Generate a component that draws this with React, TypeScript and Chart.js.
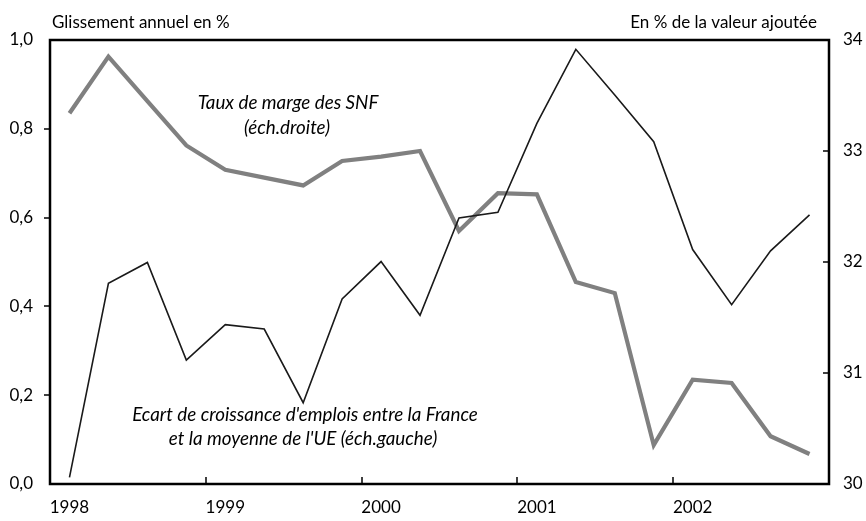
import React, { useEffect, useRef } from "react";
import { Chart, registerables } from "chart.js";

Chart.register(...registerables);

// Quarterly observations 1998Q1 .. 2002Q4
const quarters = [
  "1998T1", "1998T2", "1998T3", "1998T4",
  "1999T1", "1999T2", "1999T3", "1999T4",
  "2000T1", "2000T2", "2000T3", "2000T4",
  "2001T1", "2001T2", "2001T3", "2001T4",
  "2002T1", "2002T2", "2002T3", "2002T4",
];
const yearLabels = [
  "1998", "", "", "",
  "1999", "", "", "",
  "2000", "", "", "",
  "2001", "", "", "",
  "2002", "", "", "",
];

// Ecart de croissance d'emplois France - UE (left axis)
const employmentGap = [
  0.015, 0.452, 0.499, 0.279, 0.359, 0.349, 0.183, 0.417, 0.501, 0.380,
  0.599, 0.612, 0.812, 0.979, 0.876, 0.771, 0.528, 0.404, 0.525, 0.606,
];

// Taux de marge des SNF (right axis)
const marginRate = [
  33.34, 33.85, 33.45, 33.05, 32.83, 32.76, 32.69, 32.91, 32.95, 33.0,
  32.28, 32.62, 32.61, 31.82, 31.72, 30.35, 30.94, 30.91, 30.43, 30.27,
];

const leftMin = 0;
const leftMax = 1;
const leftStep = 0.2;
const rightMin = 30;
const rightMax = 34;
const rightStep = 1;

const leftTitle = "Glissement annuel en %";
const rightTitle = "En % de la valeur ajoutée";
const marginLabel = ["Taux de marge des SNF", "(éch.droite)"];
const gapLabel = ["Ecart de croissance d'emplois entre la France", "et la moyenne de l'UE (éch.gauche)"];

const FONT = "Lato, 'Open Sans', sans-serif";

const framePlugin = {
  id: "frameAndNotes",
  afterDraw(chart: any) {
    const { ctx, chartArea: a, scales } = chart;
    ctx.save();
    ctx.setLineDash([]);
    ctx.globalAlpha = 1;
    ctx.strokeStyle = "#000000";
    ctx.lineWidth = 2.5;
    ctx.lineJoin = "miter";
    ctx.beginPath();
    ctx.rect(a.left, a.top, a.right - a.left, a.bottom - a.top);
    ctx.stroke();

    ctx.lineWidth = 1.5;
    const x = scales.x;
    for (let i = 4; i < quarters.length; i += 4) {
      const px = Math.round((x.getPixelForValue(i - 1) + x.getPixelForValue(i)) / 2);
      ctx.beginPath();
      ctx.moveTo(px, a.bottom);
      ctx.lineTo(px, a.bottom - 7);
      ctx.stroke();
    }
    const y1 = scales.y1;
    y1.ticks.forEach((t: any) => {
      if (t.value > rightMin && t.value < rightMax) {
        const py = Math.round(y1.getPixelForValue(t.value));
        ctx.beginPath();
        ctx.moveTo(a.right - 6, py);
        ctx.lineTo(a.right, py);
        ctx.stroke();
      }
    });
    const y = scales.y;
    y.ticks.forEach((t: any) => {
      if (t.value > leftMin + 1e-9 && t.value < leftMax - 1e-9) {
        const py = Math.round(y.getPixelForValue(t.value));
        ctx.beginPath();
        ctx.moveTo(a.left - 6, py);
        ctx.lineTo(a.left, py);
        ctx.stroke();
      }
    });

    ctx.fillStyle = "#000";
    ctx.textBaseline = "middle";
    ctx.font = `17px ${FONT}`;
    ctx.textAlign = "left";
    ctx.fillText(leftTitle, 52, 23);
    ctx.textAlign = "right";
    ctx.fillText(rightTitle, 817, 23);

    ctx.font = `italic 18.8px ${FONT}`;
    ctx.textAlign = "center";
    ctx.fillText(marginLabel[0], 288, 103);
    ctx.fillText(marginLabel[1], 287, 128);
    ctx.fillText(gapLabel[0], 305, 415);
    ctx.fillText(gapLabel[1], 303, 439);
    ctx.restore();
  },
};

export default function App() {
  const ref = useRef<HTMLCanvasElement | null>(null);

  useEffect(() => {
    if (!ref.current) return;
    const chart = new Chart(ref.current, {
      type: "line",
      data: {
        labels: quarters,
        datasets: [
          {
            label: "Ecart de croissance d'emplois",
            data: employmentGap,
            yAxisID: "y",
            borderColor: "#1a1a1a",
            borderWidth: 1.6,
            pointRadius: 0,
            tension: 0,
            fill: false,
          },
          {
            label: "Taux de marge des SNF",
            data: marginRate,
            yAxisID: "y1",
            borderColor: "#808080",
            borderWidth: 4.2,
            pointRadius: 0,
            tension: 0,
            fill: false,
          },
        ],
      },
      options: {
        responsive: false,
        animation: false,
        devicePixelRatio: 1,
        layout: { padding: { top: 40, left: 0, right: 0, bottom: 0 } },
        plugins: {
          legend: { display: false },
          tooltip: { enabled: false },
          title: { display: false },
        },
        scales: {
          x: {
            type: "category",
            offset: true,
            grid: { display: false, drawTicks: false, tickLength: 0 },
            border: { display: false },
            ticks: {
              autoSkip: false,
              maxRotation: 0,
              minRotation: 0,
              padding: 13,
              color: "#000",
              font: { family: FONT, size: 17 },
              callback: (_v: any, i: number) => yearLabels[i],
            },
            afterFit: (s: any) => {
              s.height = 37;
            },
          },
          y: {
            position: "left",
            min: leftMin,
            max: leftMax,
            grid: { display: false, drawTicks: false, tickLength: 0 },
            border: { display: false },
            ticks: {
              stepSize: leftStep,
              padding: 17,
              color: "#000",
              font: { family: FONT, size: 17 },
              callback: (v: any) => Number(v).toFixed(1).replace(".", ","),
            },
            afterFit: (s: any) => {
              s.width = 50;
            },
          },
          y1: {
            position: "right",
            min: rightMin,
            max: rightMax,
            grid: { display: false, drawTicks: false, tickLength: 0 },
            border: { display: false },
            ticks: {
              stepSize: rightStep,
              padding: 14,
              color: "#000",
              font: { family: FONT, size: 17 },
              callback: (v: any) => String(v),
            },
            afterFit: (s: any) => {
              s.width = 37;
            },
          },
        },
      },
      plugins: [framePlugin],
    });
    return () => chart.destroy();
  }, []);

  return (
    <div style={{ position: "fixed", left: 0, top: 0, width: 866, height: 521, background: "#fff" }}>
      <canvas ref={ref} width={866} height={521} style={{ display: "block", width: 866, height: 521 }} />
    </div>
  );
}
